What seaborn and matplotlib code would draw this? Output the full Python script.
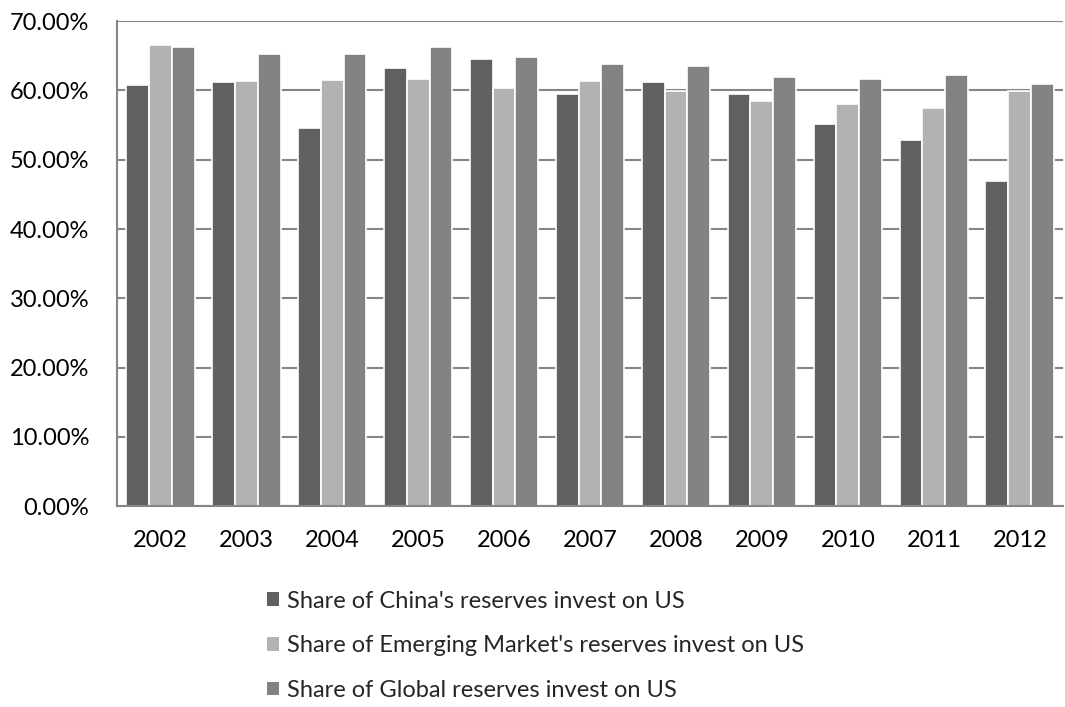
import pandas as pd
import seaborn as sns
import matplotlib.pyplot as plt
from matplotlib.patches import Patch
from matplotlib.ticker import PercentFormatter

# values (percent)
years = ["2002", "2003", "2004", "2005", "2006", "2007", "2008", "2009", "2010", "2011", "2012"]
china = [60.8, 61.2, 54.6, 63.3, 64.5, 59.5, 61.2, 59.5, 55.1, 52.9, 46.9]
emerging = [66.5, 61.4, 61.5, 61.6, 60.4, 61.4, 59.9, 58.5, 58.1, 57.5, 59.9]
global_ = [66.3, 65.3, 65.3, 66.3, 64.9, 63.8, 63.6, 61.9, 61.7, 62.2, 60.9]

series_names = [
    "Share of China's reserves invest on US",
    "Share of Emerging Market's reserves invest on US",
    "Share of Global reserves invest on US",
]
colors = ["#606060", "#b2b2b2", "#828282"]

df = pd.concat([
    pd.DataFrame({"year": years, "series": name, "value": vals})
    for name, vals in zip(series_names, [china, emerging, global_])
])

sns.set_style("white")
plt.rcParams["font.family"] = ["Lato", "DejaVu Sans"]

fig = plt.figure(figsize=(10.65, 7.07), dpi=100)
ax = fig.add_axes([0.11, 0.284, 0.888, 0.686])

sns.barplot(data=df, x="year", y="value", hue="series", palette=colors,
            width=0.8, edgecolor="white", linewidth=1.2, legend=False, ax=ax)

ax.set_ylim(0, 70)
ax.set_yticks(range(0, 71, 10))
ax.yaxis.set_major_formatter(PercentFormatter(decimals=2))
ax.set_xlim(-0.5, len(years) - 0.5)
ax.grid(axis="y", color="#868686", linewidth=1.5)
ax.set_axisbelow(True)
ax.set_xlabel("")
ax.set_ylabel("")
ax.tick_params(axis="both", length=0, labelsize=17, colors="black")
ax.tick_params(axis="x", pad=17)
ax.tick_params(axis="y", pad=20)

for side in ["top", "right"]:
    ax.spines[side].set_visible(False)
for side in ["left", "bottom"]:
    ax.spines[side].set_color("#868686")
    ax.spines[side].set_linewidth(1.5)

# square legend markers without the white bar edge
handles = [Patch(facecolor=c, edgecolor="none") for c in colors]
fig.legend(handles, series_names, loc="upper left", bbox_to_anchor=(0.242, 0.178),
           frameon=False, fontsize=17, handlelength=0.5, handleheight=0.5,
           handletextpad=0.35, labelspacing=1.0, borderaxespad=0)

fig.savefig("out.png", dpi=100)
